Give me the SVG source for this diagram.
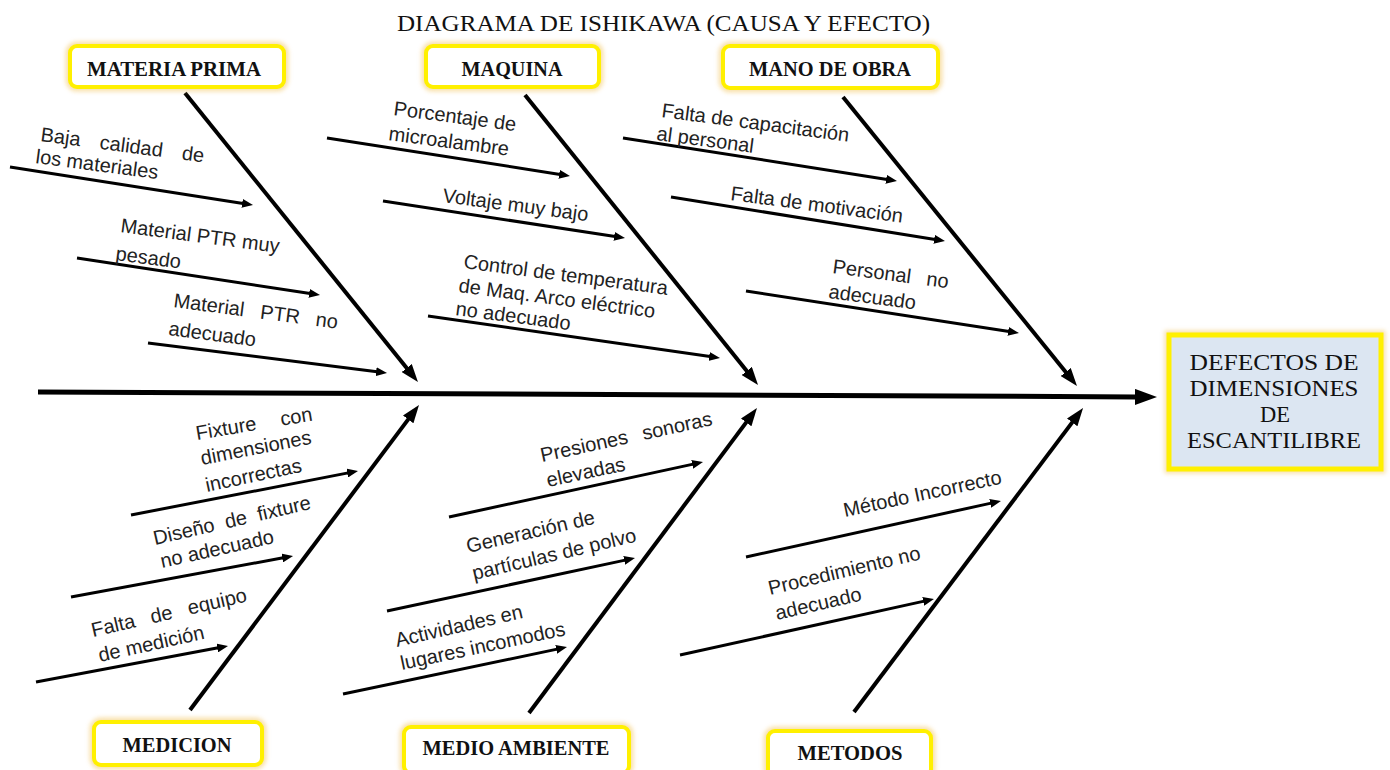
<svg xmlns="http://www.w3.org/2000/svg" width="1390" height="770" viewBox="0 0 1390 770">
  <style>
    .title { font-family: "Liberation Serif", "Times New Roman", serif; font-size: 23px; fill: #111; }
    .cat { font-family: "Liberation Serif", "Times New Roman", serif; font-size: 20px; font-weight: bold; fill: #111; text-anchor: middle; }
    .eff { font-family: "Liberation Serif", "Times New Roman", serif; font-size: 22.5px; fill: #111; text-anchor: middle; }
    .cause { font-family: "Liberation Sans", Arial, sans-serif; font-size: 20px; fill: #222; }
    .halo { fill: none; stroke: #f3c766; stroke-width: 9; opacity: 0.55; }
    .box { fill: #ffffff; stroke: #fff000; stroke-width: 4; }
    .effbox { fill: #dce6f2; stroke: #fff000; stroke-width: 5; }
    .bone { stroke: #000; stroke-width: 4; fill: none; }
    .sub { stroke: #000; stroke-width: 3; fill: none; }
    .spine { stroke: #000; stroke-width: 5; fill: none; }
  </style>
  <defs>
    <filter id="soft" x="-20%" y="-20%" width="140%" height="140%">
      <feGaussianBlur stdDeviation="2"/>
    </filter>
    <marker id="ah-s" markerUnits="userSpaceOnUse" markerWidth="11" markerHeight="9" refX="1" refY="4.5" orient="auto">
      <path d="M0,0 L11,4.5 L0,9 z" fill="#000"/>
    </marker>
    <marker id="ah-b" markerUnits="userSpaceOnUse" markerWidth="18" markerHeight="13" refX="1" refY="6.5" orient="auto">
      <path d="M0,0 L18,6.5 L0,13 z" fill="#000"/>
    </marker>
    <marker id="ah-m" markerUnits="userSpaceOnUse" markerWidth="22" markerHeight="16" refX="1" refY="8" orient="auto">
      <path d="M0,0 L22,8 L0,16 z" fill="#000"/>
    </marker>
  </defs>

  <rect width="1390" height="770" fill="#ffffff"/>

  <text class="title" x="663.5" y="31" text-anchor="middle" textLength="533" lengthAdjust="spacingAndGlyphs">DIAGRAMA DE ISHIKAWA (CAUSA Y EFECTO)</text>

  <!-- connectors: spine, category bones and cause arrows -->
  <g id="connectors">
    <line class="spine" x1="38" y1="392" x2="1136" y2="396.9" marker-end="url(#ah-m)"/>

    <line class="bone" x1="185" y1="93" x2="407.3" y2="368.8" marker-end="url(#ah-b)"/>
    <line class="bone" x1="525" y1="95" x2="747.4" y2="371.7" marker-end="url(#ah-b)"/>
    <line class="bone" x1="843" y1="97" x2="1066.3" y2="372.8" marker-end="url(#ah-b)"/>
    <line class="bone" x1="190" y1="710" x2="408.8" y2="418.6" marker-end="url(#ah-b)"/>
    <line class="bone" x1="529" y1="713" x2="746.8" y2="421.6" marker-end="url(#ah-b)"/>
    <line class="bone" x1="854" y1="712" x2="1072.8" y2="421.6" marker-end="url(#ah-b)"/>

    <line class="sub" x1="10" y1="167" x2="243.1" y2="203.5" marker-end="url(#ah-s)"/>
    <line class="sub" x1="77" y1="258" x2="310.1" y2="293.5" marker-end="url(#ah-s)"/>
    <line class="sub" x1="148" y1="343" x2="377.1" y2="371.8" marker-end="url(#ah-s)"/>
    <line class="sub" x1="327" y1="138" x2="560.1" y2="174.4" marker-end="url(#ah-s)"/>
    <line class="sub" x1="383" y1="201" x2="615.1" y2="236.5" marker-end="url(#ah-s)"/>
    <line class="sub" x1="428" y1="316" x2="710.1" y2="356.6" marker-end="url(#ah-s)"/>
    <line class="sub" x1="623" y1="138" x2="887.1" y2="179.4" marker-end="url(#ah-s)"/>
    <line class="sub" x1="671" y1="197" x2="935.1" y2="239.4" marker-end="url(#ah-s)"/>
    <line class="sub" x1="746" y1="291" x2="1009.1" y2="331.5" marker-end="url(#ah-s)"/>

    <line class="sub" x1="131" y1="515" x2="348.2" y2="472.9" marker-end="url(#ah-s)"/>
    <line class="sub" x1="71" y1="597" x2="283.2" y2="557.8" marker-end="url(#ah-s)"/>
    <line class="sub" x1="36" y1="682" x2="218.2" y2="647.8" marker-end="url(#ah-s)"/>
    <line class="sub" x1="449" y1="517" x2="693.2" y2="464.1" marker-end="url(#ah-s)"/>
    <line class="sub" x1="387" y1="611" x2="625.2" y2="560.1" marker-end="url(#ah-s)"/>
    <line class="sub" x1="343" y1="694" x2="557.2" y2="649.1" marker-end="url(#ah-s)"/>
    <line class="sub" x1="746" y1="557" x2="991.2" y2="503.1" marker-end="url(#ah-s)"/>
    <line class="sub" x1="680" y1="655" x2="924.2" y2="601.1" marker-end="url(#ah-s)"/>
  </g>

  <!-- category boxes -->
  <g id="materia-prima">
    <rect class="halo" x="70" y="46" width="214" height="41" rx="7" filter="url(#soft)"/>
    <rect class="box" x="70" y="46" width="214" height="41" rx="7"/>
    <text class="cat" x="174" y="76" textLength="174" lengthAdjust="spacingAndGlyphs">MATERIA PRIMA</text>
  </g>
  <g id="maquina">
    <rect class="halo" x="426" y="46" width="173" height="41" rx="7" filter="url(#soft)"/>
    <rect class="box" x="426" y="46" width="173" height="41" rx="7"/>
    <text class="cat" x="512" y="76" textLength="101" lengthAdjust="spacingAndGlyphs">MAQUINA</text>
  </g>
  <g id="mano-de-obra">
    <rect class="halo" x="723" y="46" width="215" height="42" rx="7" filter="url(#soft)"/>
    <rect class="box" x="723" y="46" width="215" height="42" rx="7"/>
    <text class="cat" x="830" y="76" textLength="162" lengthAdjust="spacingAndGlyphs">MANO DE OBRA</text>
  </g>
  <g id="medicion">
    <rect class="halo" x="94" y="722" width="168" height="43" rx="7" filter="url(#soft)"/>
    <rect class="box" x="94" y="722" width="168" height="43" rx="7"/>
    <text class="cat" x="177" y="752" textLength="109" lengthAdjust="spacingAndGlyphs">MEDICION</text>
  </g>
  <g id="medio-ambiente">
    <rect class="halo" x="404" y="727" width="225" height="46" rx="7" filter="url(#soft)"/>
    <rect class="box" x="404" y="727" width="225" height="46" rx="7"/>
    <text class="cat" x="516" y="755" textLength="187" lengthAdjust="spacingAndGlyphs">MEDIO AMBIENTE</text>
  </g>
  <g id="metodos">
    <rect class="halo" x="768" y="731" width="163" height="45" rx="7" filter="url(#soft)"/>
    <rect class="box" x="768" y="731" width="163" height="45" rx="7"/>
    <text class="cat" x="850" y="760" textLength="105" lengthAdjust="spacingAndGlyphs">METODOS</text>
  </g>

  <!-- effect -->
  <g id="efecto">
    <rect class="halo" x="1169" y="335" width="212" height="134" filter="url(#soft)"/>
    <rect class="effbox" x="1169" y="335" width="212" height="134"/>
    <text class="eff" x="1274" y="370" textLength="169" lengthAdjust="spacingAndGlyphs">DEFECTOS DE</text>
    <text class="eff" x="1274" y="396" textLength="169" lengthAdjust="spacingAndGlyphs">DIMENSIONES</text>
    <text class="eff" x="1275" y="422">DE</text>
    <text class="eff" x="1274" y="448" textLength="174" lengthAdjust="spacingAndGlyphs">ESCANTILIBRE</text>
  </g>

  <!-- causes: materia prima -->
  <g id="causas-materia-prima" class="cause">
    <text transform="translate(40,141) rotate(7.5)" word-spacing="14">Baja calidad de</text>
    <text transform="translate(35,163) rotate(7.5)">los materiales</text>
    <text transform="translate(120,232) rotate(7.5)">Material PTR muy</text>
    <text transform="translate(115,260) rotate(7.5)">pesado</text>
    <text transform="translate(173,307) rotate(7.5)" word-spacing="10.5">Material PTR no</text>
    <text transform="translate(168,335) rotate(7.5)">adecuado</text>
  </g>

  <!-- causes: maquina -->
  <g id="causas-maquina" class="cause">
    <text transform="translate(393,115) rotate(7.5)">Porcentaje de</text>
    <text transform="translate(388,140) rotate(7.5)">microalambre</text>
    <text transform="translate(442,202) rotate(7.5)">Voltaje muy bajo</text>
    <text transform="translate(463,268) rotate(7.5)">Control de temperatura</text>
    <text transform="translate(458,292) rotate(7.5)">de Maq. Arco eléctrico</text>
    <text transform="translate(455,315) rotate(7.5)">no adecuado</text>
  </g>

  <!-- causes: mano de obra -->
  <g id="causas-mano-de-obra" class="cause">
    <text transform="translate(661,117) rotate(7.5)">Falta de capacitación</text>
    <text transform="translate(656,140) rotate(7.5)">al personal</text>
    <text transform="translate(730,200) rotate(7.5)">Falta de motivación</text>
    <text transform="translate(832,273) rotate(7.5)" word-spacing="10">Personal no</text>
    <text transform="translate(828,298) rotate(7.5)">adecuado</text>
  </g>

  <!-- causes: medicion -->
  <g id="causas-medicion" class="cause">
    <text transform="translate(197,440) rotate(-9.5)" word-spacing="19">Fixture con</text>
    <text transform="translate(202,465) rotate(-11)">dimensiones</text>
    <text transform="translate(207,492) rotate(-12)">incorrectas</text>
    <text transform="translate(155,545) rotate(-13)" word-spacing="5.5">Diseño de fixture</text>
    <text transform="translate(162,568) rotate(-12.5)">no adecuado</text>
    <text transform="translate(93,637) rotate(-13)" word-spacing="10.5">Falta de equipo</text>
    <text transform="translate(100,662) rotate(-12.5)">de medición</text>
  </g>

  <!-- causes: medio ambiente -->
  <g id="causas-medio-ambiente" class="cause">
    <text transform="translate(542,462) rotate(-12.2)" word-spacing="9.5">Presiones sonoras</text>
    <text transform="translate(548,487) rotate(-12)">elevadas</text>
    <text transform="translate(468,553) rotate(-13)">Generación de</text>
    <text transform="translate(474,580) rotate(-13.3)">partículas de polvo</text>
    <text transform="translate(397,647) rotate(-13)">Actividades en</text>
    <text transform="translate(402,670) rotate(-12)">lugares incomodos</text>
  </g>

  <!-- causes: metodos -->
  <g id="causas-metodos" class="cause">
    <text transform="translate(845,517) rotate(-12)">Método Incorrecto</text>
    <text transform="translate(770,595) rotate(-13.3)">Procedimiento no</text>
    <text transform="translate(777,620) rotate(-13)">adecuado</text>
  </g>
</svg>
